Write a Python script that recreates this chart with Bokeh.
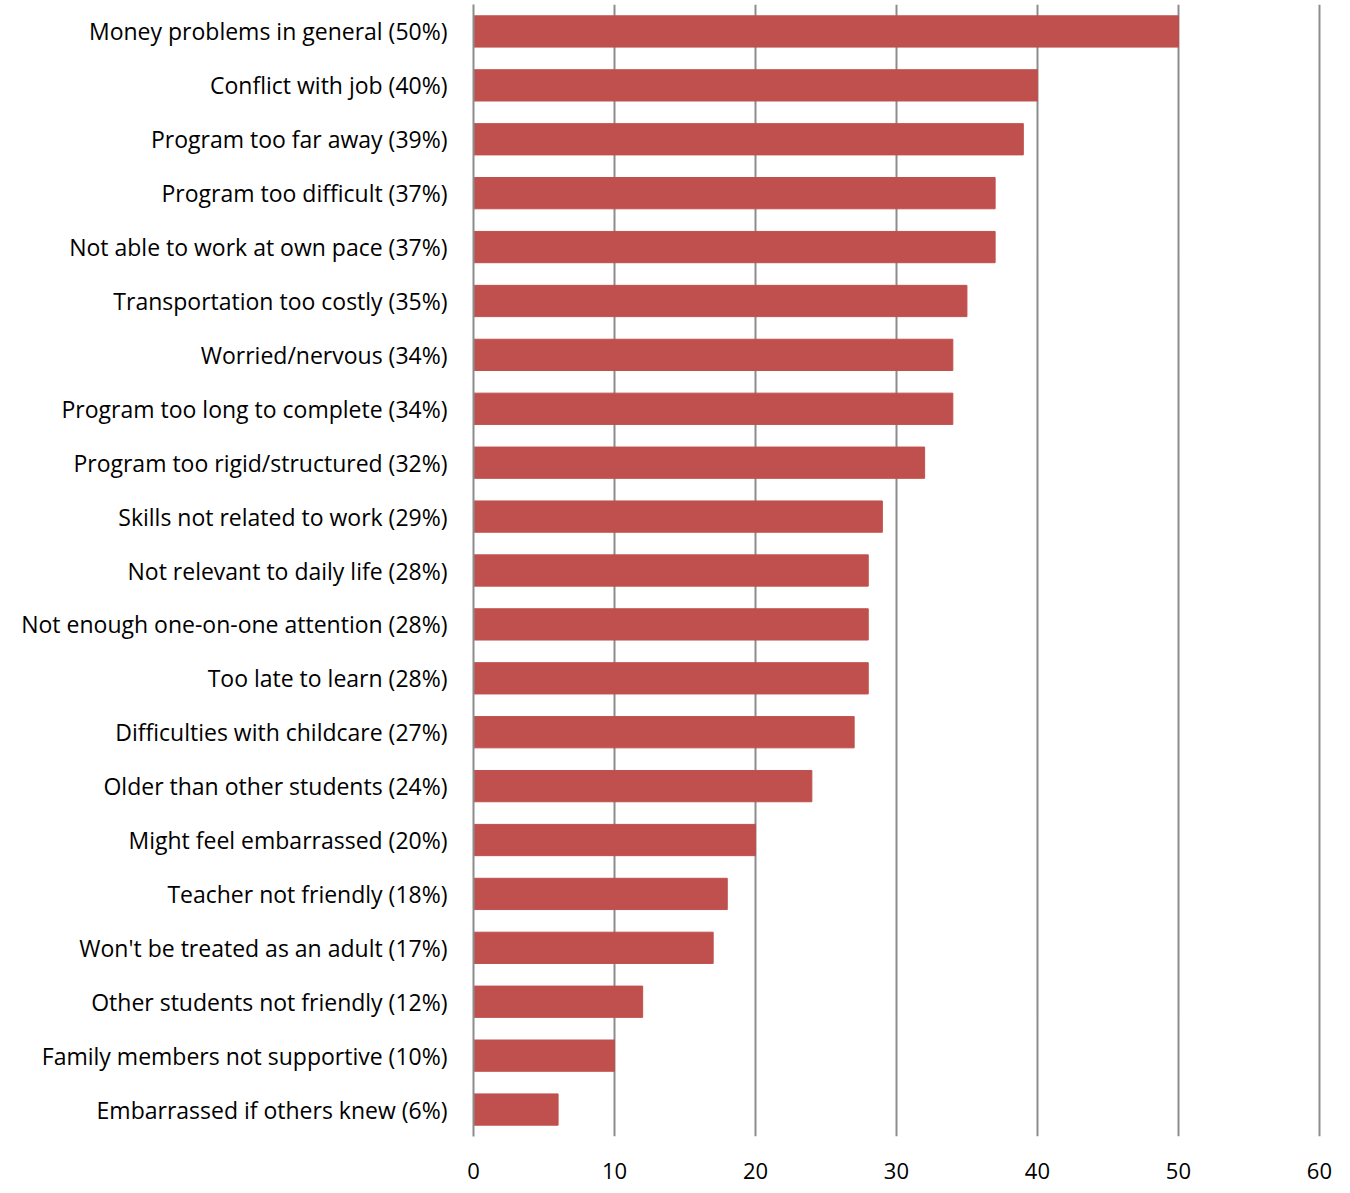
from bokeh.plotting import figure
from bokeh.models import FactorRange, SingleIntervalTicker
from bokeh.embed import file_html
from bokeh.resources import INLINE

categories = [
    "Money problems in general (50%)",
    "Conflict with job (40%)",
    "Program too far away (39%)",
    "Program too difficult (37%)",
    "Not able to work at own pace (37%)",
    "Transportation too costly (35%)",
    "Worried/nervous (34%)",
    "Program too long to complete (34%)",
    "Program too rigid/structured (32%)",
    "Skills not related to work (29%)",
    "Not relevant to daily life (28%)",
    "Not enough one-on-one attention (28%)",
    "Too late to learn (28%)",
    "Difficulties with childcare (27%)",
    "Older than other students (24%)",
    "Might feel embarrassed (20%)",
    "Teacher not friendly (18%)",
    "Won't be treated as an adult (17%)",
    "Other students not friendly (12%)",
    "Family members not supportive (10%)",
    "Embarrassed if others knew (6%)",
]
values = [50, 40, 39, 37, 37, 35, 34, 34, 32, 29, 28, 28, 28, 27, 24, 20, 18, 17, 12, 10, 6]

FONT = "Open Sans"

p = figure(
    y_range=FactorRange(factors=list(reversed(categories))),
    x_range=(0, 60.15),
    frame_width=848, frame_height=1132,
    min_border_left=473, min_border_right=20, min_border_top=4, min_border_bottom=48,
    output_backend="svg", toolbar_location=None,
)
p.hbar(y=categories, right=values, left=0, height=0.58, color="#C0504D")

p.outline_line_color = None
p.ygrid.grid_line_color = None
p.xgrid.grid_line_color = "#8C8C8C"
p.xgrid.grid_line_width = 2
p.xaxis.ticker = SingleIntervalTicker(interval=10)
p.xaxis.axis_line_color = None
p.xaxis.major_tick_line_color = None
p.xaxis.minor_tick_line_color = None
p.xaxis.major_label_standoff = 20
p.xaxis.major_label_text_font = FONT
p.xaxis.major_label_text_font_size = "22px"
p.xaxis.major_label_text_color = "#000000"

p.yaxis.axis_line_color = "#8C8C8C"
p.yaxis.axis_line_width = 2
p.yaxis.major_tick_line_color = None
p.yaxis.minor_tick_line_color = None
p.yaxis.major_label_standoff = 20
p.yaxis.major_label_text_font = FONT
p.yaxis.major_label_text_font_size = "23px"
p.yaxis.major_label_text_color = "#000000"

open("out.html", "w").write(file_html(p, INLINE))
